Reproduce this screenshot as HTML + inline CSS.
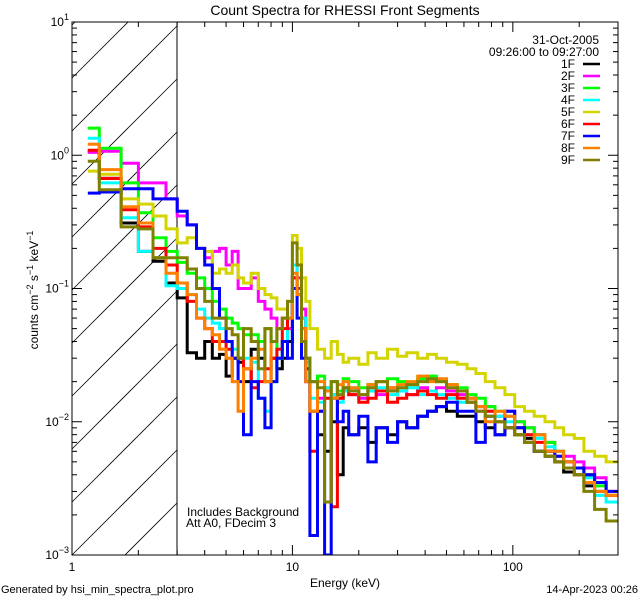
<!DOCTYPE html>
<html><head><meta charset="utf-8"><style>
html,body{margin:0;padding:0;background:#fff;width:640px;height:600px;overflow:hidden}
svg{display:block;overflow:hidden;font-family:"Liberation Sans",sans-serif}
</style></head><body>
<svg id="chart" width="640" height="600" viewBox="0 0 640 600" xmlns="http://www.w3.org/2000/svg">
<rect x="0" y="0" width="640" height="600" fill="#fff"/>
<defs><clipPath id="plotclip"><rect x="72" y="22" width="546" height="533"/></clipPath></defs>
<text x="345" y="15" font-size="14" text-anchor="middle">Count Spectra for RHESSI Front Segments</text>
<g id="hatch"></g>
<line x1="177" y1="22" x2="177" y2="555" stroke="#000" stroke-width="1"/>
<g id="series" clip-path="url(#plotclip)"></g>
<rect x="72" y="22" width="546" height="533" fill="none" stroke="#000" stroke-width="1"/>
<g id="axes"></g>
<text transform="translate(38,290) rotate(-90)" font-size="12" text-anchor="middle">counts cm<tspan dy="-5" font-size="9">−2</tspan><tspan dy="5"> s</tspan><tspan dy="-5" font-size="9">−1</tspan><tspan dy="5"> keV</tspan><tspan dy="-5" font-size="9">−1</tspan></text>
<text x="345" y="587" font-size="12" text-anchor="middle">Energy (keV)</text>
<text x="187" y="516" font-size="12">Includes Background</text>
<text x="186" y="527" font-size="12">Att A0, FDecim 3</text>
<text x="1" y="593" font-size="11">Generated by hsi_min_spectra_plot.pro</text>
<text x="638" y="593" font-size="11" text-anchor="end">14-Apr-2023 00:26</text>
<text x="599" y="44" font-size="12" text-anchor="end">31-Oct-2005</text>
<text x="599" y="56" font-size="12" text-anchor="end">09:26:00 to 09:27:00</text>
<g id="legend"></g>
</svg>
<script>
const edges=[1.18,1.33,1.67,2.0,2.33,2.67,3.0,3.33,3.67,4.0,4.33,4.67,5.0,5.33,5.67,6.0,6.5,7.0,7.5,8.0,8.5,9.0,9.5,10.0,10.5,11.0,11.5,12,13,14,15,16,17,18,20,22,24,27,30,33,37,41,45,50,56,62,68,75,83,92,102,113,125,140,155,170,190,210,235,265,300];
const names=["1F","2F","3F","4F","5F","6F","7F","8F","9F"];
const colors=["#000000","#ff00ff","#00ff00","#00ffff","#d4d400","#ff0000","#0000ff","#ff8000","#808000"];
const s1F=[1.07,0.67,0.31,0.19,0.16,0.11,0.085,0.033,0.03,0.04,0.03,0.032,0.022,0.03,0.028,0.02,0.035,0.03,0.02,0.03,0.025,0.03,0.04,0.12,0.09,0.06,0.025,0.012,0.008,0.006,0.01,0.004,0.009,0.008,0.009,0.007,0.009,0.008,0.01,0.009,0.011,0.012,0.013,0.012,0.011,0.011,0.01,0.009,0.008,0.009,0.008,0.0075,0.006,0.0055,0.005,0.0042,0.004,0.0033,0.003,0.0028];
const s2F=[1.05,1.07,0.87,0.62,0.62,0.47,0.35,0.3,0.2,0.17,0.19,0.2,0.15,0.19,0.1,0.1,0.12,0.08,0.07,0.06,0.05,0.06,0.05,0.15,0.12,0.07,0.03,0.02,0.015,0.018,0.016,0.015,0.017,0.016,0.015,0.017,0.016,0.018,0.017,0.016,0.018,0.017,0.018,0.017,0.016,0.015,0.012,0.013,0.011,0.012,0.01,0.009,0.008,0.007,0.006,0.0055,0.005,0.0045,0.0038,0.003];
const s3F=[1.6,1.13,0.62,0.37,0.24,0.19,0.157,0.13,0.12,0.1,0.08,0.07,0.06,0.055,0.05,0.045,0.045,0.04,0.05,0.04,0.03,0.04,0.06,0.1,0.09,0.05,0.03,0.02,0.022,0.018,0.02,0.017,0.021,0.02,0.018,0.019,0.02,0.021,0.02,0.019,0.021,0.022,0.02,0.019,0.018,0.016,0.015,0.013,0.012,0.011,0.01,0.009,0.008,0.007,0.006,0.005,0.0045,0.004,0.0033,0.0028];
const s4F=[1.34,0.62,0.34,0.19,0.17,0.105,0.1,0.09,0.07,0.06,0.055,0.05,0.04,0.035,0.03,0.03,0.028,0.015,0.012,0.02,0.03,0.04,0.06,0.15,0.1,0.06,0.028,0.015,0.014,0.018,0.016,0.014,0.017,0.018,0.016,0.017,0.018,0.016,0.017,0.018,0.016,0.017,0.016,0.015,0.014,0.014,0.013,0.012,0.011,0.01,0.009,0.008,0.0075,0.0065,0.006,0.005,0.0045,0.0038,0.0028,0.0025];
const s5F=[0.76,0.72,0.47,0.43,0.35,0.28,0.22,0.24,0.2,0.19,0.13,0.14,0.13,0.15,0.12,0.11,0.13,0.1,0.09,0.085,0.07,0.07,0.08,0.25,0.2,0.12,0.08,0.05,0.035,0.03,0.04,0.032,0.028,0.03,0.027,0.033,0.03,0.035,0.031,0.033,0.03,0.032,0.03,0.028,0.027,0.025,0.023,0.02,0.018,0.016,0.013,0.012,0.011,0.01,0.009,0.008,0.0075,0.006,0.0055,0.005];
const s6F=[1.09,0.67,0.39,0.29,0.2,0.15,0.11,0.08,0.06,0.05,0.04,0.04,0.035,0.03,0.03,0.025,0.018,0.02,0.025,0.03,0.035,0.05,0.06,0.12,0.1,0.05,0.02,0.006,0.012,0.015,0.0023,0.015,0.018,0.016,0.014,0.015,0.017,0.014,0.015,0.016,0.017,0.016,0.015,0.016,0.015,0.014,0.013,0.012,0.01,0.009,0.009,0.008,0.007,0.006,0.0055,0.005,0.0045,0.004,0.0035,0.0028];
const s7F=[0.52,0.53,0.56,0.56,0.47,0.47,0.38,0.3,0.2,0.15,0.1,0.06,0.04,0.03,0.02,0.008,0.02,0.015,0.009,0.02,0.03,0.04,0.03,0.1,0.06,0.03,0.02,0.0014,0.012,0.001,0.015,0.01,0.012,0.008,0.011,0.005,0.009,0.007,0.01,0.009,0.011,0.012,0.013,0.014,0.012,0.012,0.007,0.011,0.008,0.012,0.009,0.007,0.006,0.006,0.0055,0.005,0.0045,0.004,0.0035,0.003];
const s8F=[1.21,0.78,0.41,0.31,0.17,0.13,0.11,0.09,0.06,0.05,0.045,0.035,0.03,0.02,0.012,0.025,0.03,0.035,0.02,0.04,0.05,0.06,0.06,0.13,0.09,0.05,0.02,0.012,0.02,0.017,0.015,0.019,0.02,0.018,0.016,0.019,0.02,0.018,0.019,0.02,0.022,0.02,0.021,0.019,0.017,0.015,0.013,0.01,0.012,0.011,0.008,0.007,0.008,0.006,0.006,0.005,0.004,0.0035,0.003,0.0028];
const s9F=[0.9,0.55,0.29,0.28,0.17,0.17,0.17,0.14,0.1,0.08,0.06,0.06,0.05,0.045,0.03,0.05,0.04,0.025,0.05,0.04,0.05,0.06,0.08,0.22,0.15,0.04,0.03,0.02,0.018,0.0025,0.02,0.016,0.018,0.017,0.016,0.018,0.02,0.017,0.018,0.019,0.02,0.021,0.02,0.018,0.017,0.014,0.012,0.011,0.01,0.009,0.008,0.007,0.006,0.0055,0.005,0.0045,0.004,0.003,0.0022,0.0018];
const allSeries=[s1F,s2F,s3F,s4F,s5F,s6F,s7F,s8F,s9F];
const xMajor=[1,10,100];
const xMajorLabels=["1","10","100"];
const yMajorExp=[-3,-2,-1,0,1];

const NS="http://www.w3.org/2000/svg";
const X0=72,X1=618,Y0=22,Y1=555;
const xMin=1,xMax=300,yMin=0.001,yMax=10;
function xs(e){return X0+(X1-X0)*(Math.log10(e)-Math.log10(xMin))/(Math.log10(xMax)-Math.log10(xMin));}
function ys(v){return Y1-(Y1-Y0)*(Math.log10(v)-Math.log10(yMin))/(Math.log10(yMax)-Math.log10(yMin));}
function mk(tag,attrs,parent){const el=document.createElementNS(NS,tag);for(const k in attrs)el.setAttribute(k,attrs[k]);parent.appendChild(el);return el;}

// hatching: lines y = b - (x - X0), clipped manually to [X0,177]x[Y0,Y1]
const hatch=document.getElementById('hatch');
const HX1=177;
for(let i=-2;i<12;i++){
  const b=Y1-i*53;
  let xa=X0, ya=b;
  if(ya>Y1){xa=X0+(ya-Y1);ya=Y1;}
  let xb=HX1, yb=b-(HX1-X0);
  if(yb<Y0){xb=X0+(b-Y0);yb=Y0;}
  if(xa>=xb||xa>HX1||ya<Y0)continue;
  const ln=mk('line',{x1:xa,y1:ya,x2:xb,y2:yb,stroke:'#000','stroke-width':0.8},hatch);
  
  
}

const sg=document.getElementById('series');
allSeries.forEach((vals,si)=>{
  let d='';
  vals.forEach((v,i)=>{
    const xa=xs(edges[i]).toFixed(1),xb=xs(edges[i+1]).toFixed(1),y=Math.min(ys(v),Y1).toFixed(1);
    d+=(i===0?'M':'L')+xa+','+y+'L'+xb+','+y;
  });
  const p=mk('path',{d:d,fill:'none',stroke:colors[si],'stroke-width':3,'stroke-linejoin':'miter'},sg);
  
  
});

const ax=document.getElementById('axes');
for(let dec=0;dec<3;dec++){
  for(let m=1;m<10;m++){
    const e=m*Math.pow(10,dec); if(e>xMax)break;
    const x=xs(e); const L=(m===1)?10:5;
    const t1=mk('line',{x1:x,y1:Y1,x2:x,y2:Y1-L,stroke:'#000'},ax);
    
    
    const t2=mk('line',{x1:x,y1:Y0,x2:x,y2:Y0+L,stroke:'#000'},ax);
    
    
  }
}
xMajor.forEach((e,i)=>{
  const t=mk('text',{x:xs(e),y:Y1+16,'font-size':12,'text-anchor':'middle'},ax);
  t.textContent=xMajorLabels[i];
  
  
});
yMajorExp.forEach(p=>{
  for(let m=1;m<10;m++){
    if(p===1&&m>1)break;
    const v=m*Math.pow(10,p); const y=ys(v); const L=(m===1)?10:5;
    const t1=mk('line',{x1:X0,y1:y,x2:X0+L,y2:y,stroke:'#000'},ax);
    
    
    const t2=mk('line',{x1:X1,y1:y,x2:X1-L,y2:y,stroke:'#000'},ax);
    
    
  }
  const t=mk('text',{x:X0-3,y:ys(Math.pow(10,p))+4,'font-size':12,'text-anchor':'end'},ax);
  
  
  t.innerHTML='10<tspan dy="-6" font-size="9">'+(p<0?'−'+(-p):p)+'</tspan>';
});

const lg=document.getElementById('legend');
names.forEach((n,i)=>{
  const y=64+i*12;
  const t=mk('text',{x:575,y:y+4,'font-size':12,'text-anchor':'end'},lg);
  t.textContent=n;
  
  
  const l=mk('line',{x1:583,y1:y,x2:600,y2:y,stroke:colors[i],'stroke-width':2.5},lg);
  
  
});
</script>
</body></html>
